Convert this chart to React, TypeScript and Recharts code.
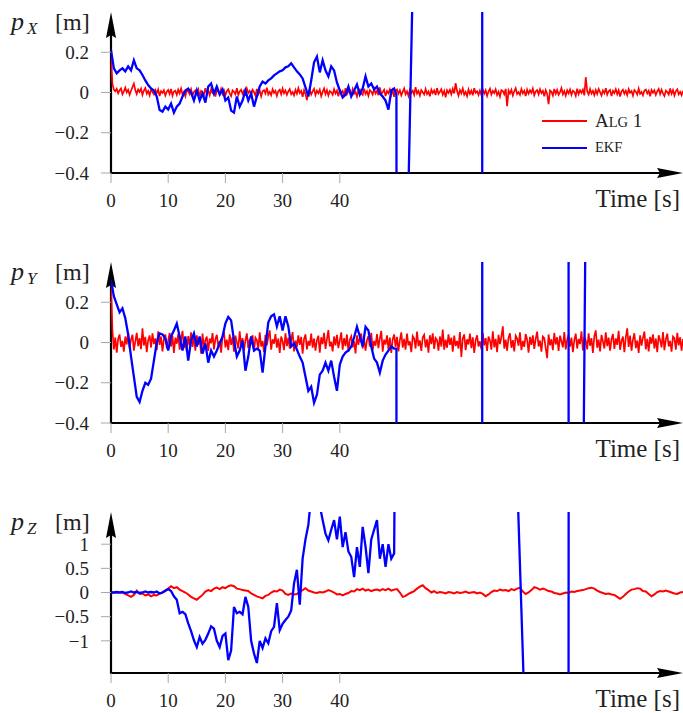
import type { JSX } from 'react';
import { Line, LineChart, ReferenceLine, XAxis, YAxis } from 'recharts';

const FONT = '"Liberation Serif", "Times New Roman", serif';
const RED = '#ff0000';
const BLUE = '#0000ff';
const WIDTH = 683;

// Time axis
const T_MAX = 100;
const X_TICKS = [0, 10, 20, 30, 40];

// Alg 1 position error, sampled every 0.25 s (X, Y in mm) / 0.5 s (Z in cm)
const RED_STEP_XY = 0.25;
const RED_STEP_Z = 0.5;

const ALG_X_MM = [
  178, 42, 14, 6, 18, -4, 11, 20, -9, 6, 24, 1, 13, -11, 9, 26, 44, 12, -8, 15,
  3, 19, -12, 10, 22, -6, 8, -14, 17, 2, -9, 12, -3, 15, -18, 7, -2, 11, -15, 4,
  13, -7, 18, -16, 5, 9, -12, 14, -4, 20, -10, 3, -19, 12, 6, -8, 16, -13, 2, 10,
  -6, 15, -17, 8, 1, -11, 21, -5, 9, -14, 17, -2, 6, -20, 12, 4, -9, 18, -7, 11,
  -13, 7, 16, -4, -18, 10, 3, -9, 22, -12, 5, 14, -6, 9, -16, 19, -3, 8, -11, 13,
  2, -15, 18, -7, 11, -19, 6, 12, -5, 24, -10, 3, -13, 16, -2, 9, -17, 7, 14, -8,
  19, -4, 10, -12, 5, 17, -9, 2, -14, 13, -6, 21, -3, 8, -22, 11, -7, -38, 4, 15,
  -10, 6, 18, -13, 9, -4, 14, -18, 3, 20, -8, 12, -15, 7, 1, -11, 16, -5, 10, -19,
  13, -2, 8, -16, 22, -9, 5, 11, -14, 17, -6, 3, -20, 9, 15, -3, -12, 19, -7, 6,
  -17, 12, 4, -10, 18, -5, 9, -13, 25, -8, 2, 14, -18, 7, -4, 16, -11, 10, -21, 8,
  15, -6, 11, -14, 3, 20, -9, 6, -17, 13, -2, 9, -12, 27, -5, 8, -15, 12, 1, -10,
  17, -8, 5, -19, 14, -3, 10, -13, 22, -7, 4, 16, -11, 8, -24, 11, -2, 13, -9, 18,
  -5, 46, 7, -16, 12, -4, 20, -11, 3, -18, 15, -7, 9, -14, 21, -2, 6, -12, 10, -12,
  14, -6, 11, -17, 5, 19, -10, 8, -3, 16, -13, 4, -20, 12, 7, -9, 18, -68, 10, -5,
  13, -15, 6, 21, -8, 2, -12, 17, -4, 9, -18, 14, -6, 11, -2, 20, -14, 5, 12, -9,
  16, -3, 8, -19, 12, -7, -58, 10, 4, -15, 18, -6, 13, -11, 2, 22, -9, 7, -16, 11,
  -4, 15, -12, 9, 3, -17, 19, -8, 11, -2, 14, -14, 76, 6, -10, 17, -5, 8, -13, 12,
  -7, 18, 2, -15, 10, -4, 21, -11, 6, 13, -18, 8, -3, 16, -9, 11, -20, 5, 14, -6,
  9, -13, 17, -2, 7, -16, 12, 4, -10, 19, -7, 3, -14, 10, 15, -5, 8, -19, 13, -1,
  11, -12, 6, 18, -8, 14, -4, -17, 9, 2, -11, 20, -6, 12, -15, 7, 16, -9, 3, -13,
  8,
];

const ALG_Y_MM = [
  300, 60, -35, 25, -50, 18, 40, -22, 8, -45, 30, -10, 52, -28, 15, 38, -40, 5, 48, -18,
  22, -33, 70, -15, 28, -48, 12, 35, -25, 45, -8, 20, -38, 55, -12, 30, -44, 16, 40, -30,
  10, 48, -20, 33, -52, 24, -6, 42, -36, 14, 58, -28, 8, -46, 32, -14, 50, -22, 26, -40,
  36, -10, 18, -55, 44, -26, 12, 30, -42, 20, -4, 47, -34, 16, 38, -18, 6, -50, 28, 52,
  -24, 14, -38, 40, -12, 26, -46, 34, 2, -30, 55, -16, 22, -40, 10, 45, -28, 18, -8, 36,
  -44, 24, 12, -32, 50, -20, 8, -48, 38, -14, 28, 60, -36, 16, -6, 42, -26, 20, -52, 30,
  6, -38, 46, -18, 24, -30, 14, 52, -44, 10, -22, 36, -12, 28, -56, 18, 40, -34, 8, -16,
  44, -26, 20, -40, 12, 34, -50, 26, -8, 48, -32, 16, 62, -20, 4, -44, 30, -14, 38, -28,
  10, 50, -36, 22, -18, 40, -46, 14, 30, -24, 6, -54, 36, -12, 26, 44, -30, 18, -40, 12,
  32, -20, 48, -38, 8, -16, 42, -28, 20, 58, -46, 14, -10, 36, -34, 24, -52, 16, 40, -22,
  28, -44, 12, 50, -26, 18, -36, 44, -14, 6, -48, 32, 20, -30, 54, -18, 10, -42, 26, 38,
  -24, 16, -50, 36, -8, 46, -32, 22, 12, -40, 30, -20, 64, -36, 14, -26, 40, -12, 24, -46,
  34, -18, 8, -30, 52, -72, 20, 40, -38, 16, -10, 44, -28, 26, -52, 12, 36, -20, 6, -34,
  48, -14, 22, -42, 30, 10, -36, 56, -24, 18, -48, 38, -8, 28, 80, -30, 14, -40, 24, 46,
  -26, 12, -44, 34, 20, -16, 50, -38, 8, -22, 42, 14, -50, 28, -12, 36, -32, 18, 54, -20,
  10, -46, 30, 22, -28, -78, 40, -14, 16, -38, 48, -10, 26, -42, 34, 6, -24, 52, -34, 14,
  38, -20, 24, -48, 12, 44, -30, 18, -8, 56, -40, 28, 10, -34, 46, -16, 22, -52, 32, 60,
  -26, 14, -44, 38, 6, -30, 50, -18, 24, -40, 16, 42, -32, 20, -12, 58, -36, 8, 30, -48,
  26, 70, -22, 34, -40, 14, 46, -28, 10, -52, 36, -16, 24, 54, -34, 18, -44, 28, -6, 40,
  -30, 20, -48, 36, 12, -24, 52, -38, 16, 44, -20, 8, -46, 30, 22, -36, 48, -14, 26, -40,
  18,
];

const ALG_Z_CM = [
  0, 0, 0, 0, 0, -3, -6, -9, -5, 4,
  -3, -2, -6, -4, -8, -5, -6, -2, 0, 3,
  8, 13, 9, 11, 6, 3, 0, -4, -9, -12,
  -15, -10, -5, 2, 5, 3, 8, 10, 7, 11,
  9, 13, 15, 13, 8, 7, 5, 4, 3, -2,
  -5, -8, -10, -12, -7, -5, 0, 3, 2, 6,
  4, -3, -5, -2, -4, -3, 2, 5, 9, 4,
  2, 0, -1, 1, 0, 2, 5, 3, 0, -4,
  -3, -6, -3, -1, 3, 2, 7, 5, 8, 4,
  6, 3, 5, 6, 4, 7, 5, 8, 4, 6,
  7, 0, -9, -7, -3, 0, 3, 8, 12, 15,
  9, 5, 0, 3, -1, 1, 0, -2, 1, 0,
  -2, 1, -1, 0, 2, -1, 0, 1, -2, 0,
  -3, -8, -4, 1, 4, 3, 6, 4, 5, 3,
  7, 5, 8, 10, 2, -3, 0, 5, 11, 9,
  6, 8, 6, 3, 2, -1, -2, -4, -2, 0,
  -1, 2, 1, 3, 4, 5, 7, 9, 10, 8,
  4, 1, -1, -3, -2, -4, -5, -9, -13, -9,
  -3, 2, 6, 7, 9, 8, 3, 2, -3, -8,
  -4, 1, 3, 2, 4, 2, 0, -2, -3, 0,
  1,
];

// EKF position error, sampled every 0.5 s up to 49.5 s
const EKF_STEP = 0.5;

const EKF_X_MM = [
  210, 120, 95, 110, 120, 105, 130, 110, 160, 120,
  110, 87, 60, 37, 20, 10, -20, -87, -95, -70,
  -85, -55, -100, -70, -55, -20, 10, 20, 0, -40,
  10, -40, -5, -50, 30, 45, -5, 30, -10, 15,
  -40, -25, -90, -100, -20, -70, -40, 10, -40, -5,
  -70, -20, 30, 54, 45, 60, 70, 85, 95, 105,
  110, 125, 130, 145, 125, 105, 90, 70, 25, -20,
  60, 150, 178, 100, 160, 110, 80, 130, 110, 50,
  10, -25, -10, 30, -20, 10, 40, -10, 20, 80,
  30, 45, 15, 30, -5, -20, -40, -85, 10, 20,
];

const EKF_Y_MM = [
  310, 230, 190, 150, 170, 120, 40, -70, -170, -270,
  -295, -240, -200, -210, -180, -90, 0, 45, 40, 20,
  -40, 30, 60, 94, 30, -40, 30, -90, 10, 45,
  -20, 30, -55, -5, -100, -40, -70, -40, -5, 30,
  95, 127, 110, 10, -70, -40, 10, -140, -70, 30,
  -40, -30, -40, -150, -20, 100, 130, 140, 80, 130,
  60, 130, 80, -20, -5, -35, -70, -100, -170, -240,
  -220, -300, -260, -160, -140, -100, -140, -90, -170, -240,
  -110, -70, -50, -40, -20, 25, 78, 30, -20, 78,
  60, -20, -80, -100, -150, -90, -60, -40, -20, -30,
];

const EKF_Z_CM = [
  0, 0, 1, 0, 1, -1, 0, 2, 0, 1,
  -1, 0, 2, 0, 1, 0, 2, -2, 0, 4,
  7, 3, -8, -15, -43, -40, -45, -64, -80, -99,
  -113, -92, -106, -98, -85, -70, -75, -100, -113, -90,
  -85, -140, -120, -30, -43, -40, -45, -9, -30, -100,
  -126, -146, -100, -115, -95, -105, -80, -71, -22, -78,
  -65, -57, -50, -37, 19, 47, -25, 70, 110, 140,
  200, 230, 220, 180, 150, 122, 108, 130, 150, 110,
  157, 94, 125, 85, 74, 32, 94, 53, 136, 95,
  40, 110, 130, 150, 70, 100, 53, 100, 70, 81,
];

// EKF divergence after ~50 s (time in s, value in m, far outside the plotted range)
const EKF_X_TAIL_T = [49.9, 50.0, 54.7, 64.88, 64.92, 100];
const EKF_X_TAIL_V = [-0.01, -3.2, 3.2, 3.2, -3.2, -3.2];
const EKF_Y_TAIL_T = [49.9, 50.0, 64.88, 64.92, 79.98, 80.02, 81.28, 84.28, 100];
const EKF_Y_TAIL_V = [-0.03, -5, -5, 5, 5, -5, -5, 5, 5];
const EKF_Z_TAIL_T = [49.75, 70.3, 73.0, 79.98, 80.02, 100];
const EKF_Z_TAIL_V = [5, 5, -5, -5, 5, 5];

// Y axes
const XY_DOMAIN: [number, number] = [-0.4, 0.4];
const XY_TICKS = [-0.4, -0.2, 0, 0.2];
const Z_DOMAIN: [number, number] = [-5 / 3, 5 / 3];
const Z_TICKS = [-1, -0.5, 0, 0.5, 1];

interface Point {
  t: number;
  v: number;
}

function sampled(values: number[], step: number, unit: number): Point[] {
  return values.map((v, i) => ({ t: i * step, v: v * unit }));
}

function tail(ts: number[], vs: number[]): Point[] {
  return ts.map((t, i) => ({ t, v: vs[i] }));
}

const algX = sampled(ALG_X_MM, RED_STEP_XY, 0.001);
const algY = sampled(ALG_Y_MM, RED_STEP_XY, 0.001);
const algZ = sampled(ALG_Z_CM, RED_STEP_Z, 0.01);
const ekfX = [...sampled(EKF_X_MM, EKF_STEP, 0.001), ...tail(EKF_X_TAIL_T, EKF_X_TAIL_V)];
const ekfY = [...sampled(EKF_Y_MM, EKF_STEP, 0.001), ...tail(EKF_Y_TAIL_T, EKF_Y_TAIL_V)];
const ekfZ = [...sampled(EKF_Z_CM, EKF_STEP, 0.01), ...tail(EKF_Z_TAIL_T, EKF_Z_TAIL_V)];

function formatTick(value: number): string {
  return value < 0 ? `\u2212${Math.abs(value)}` : `${value}`;
}

/**
 * Axis line drawn with a long triangular head at its end point
 */
function AxisArrow(props: any): JSX.Element {
  const { x1, y1, x2, y2 } = props;
  const dx = x2 - x1;
  const dy = y2 - y1;
  const len = Math.hypot(dx, dy) || 1;
  const ux = dx / len;
  const uy = dy / len;
  const headLen = 26;
  const halfW = 5;
  const bx = x2 - ux * headLen;
  const by = y2 - uy * headLen;
  const points = `${x2},${y2} ${bx - uy * halfW},${by + ux * halfW} ${bx + ux * 3},${by + uy * 3} ${bx + uy * halfW},${by - ux * halfW}`;
  return (
    <g>
      <line x1={x1 - ux} y1={y1 - uy} x2={bx + ux * 4} y2={by + uy * 4} stroke="#000" strokeWidth={2.2} />
      <polygon points={points} fill="#000" />
    </g>
  );
}

interface PanelProps {
  name: string;
  alg: Point[];
  ekf: Point[];
  algWidth: number;
  domain: [number, number];
  ticks: number[];
  height: number;
  xAxisHeight: number;
  showLegend?: boolean;
}

function Panel({ name, alg, ekf, algWidth, domain, ticks, height, xAxisHeight, showLegend }: PanelProps): JSX.Element {
  const plotBottom = height - xAxisHeight;
  return (
    <div style={{ position: 'relative', width: WIDTH, height }}>
      <LineChart width={WIDTH} height={height} margin={{ top: 12, right: 0, bottom: 0, left: 0 }}>
        <XAxis
          type="number"
          dataKey="t"
          domain={[0, T_MAX]}
          ticks={X_TICKS}
          interval={0}
          allowDataOverflow
          height={xAxisHeight}
          axisLine={false}
          tickLine={{ stroke: '#a8a8a8' }}
          tickSize={10}
          tickMargin={11}
          tick={{ fontSize: 19, fill: '#222', fontFamily: FONT }}
        />
        <YAxis
          type="number"
          domain={domain}
          ticks={ticks}
          interval={0}
          allowDataOverflow
          width={111}
          axisLine={false}
          tickLine={{ stroke: '#a8a8a8' }}
          tickSize={10}
          tickMargin={12}
          tickFormatter={formatTick}
          tick={{ fontSize: 19, fill: '#222', fontFamily: FONT }}
        />
        <ReferenceLine
          segment={[{ x: 0, y: domain[0] }, { x: T_MAX, y: domain[0] }]}
          shape={AxisArrow}
          ifOverflow="visible"
        />
        <ReferenceLine
          segment={[{ x: 0, y: domain[0] }, { x: 0, y: domain[1] }]}
          shape={AxisArrow}
          ifOverflow="visible"
        />
        <Line
          data={alg}
          dataKey="v"
          stroke={RED}
          strokeWidth={algWidth}
          dot={false}
          activeDot={false}
          isAnimationActive={false}
        />
        <Line
          data={ekf}
          dataKey="v"
          stroke={BLUE}
          strokeWidth={2.3}
          dot={false}
          activeDot={false}
          isAnimationActive={false}
        />
      </LineChart>

      {/* Axis titles and legend */}
      <svg
        width={WIDTH}
        height={height}
        style={{ position: 'absolute', left: 0, top: 0, pointerEvents: 'none' }}
        fontFamily={FONT}
        fill="#222"
      >
        <text x={11} y={30} fontSize={26} fontStyle="italic">p</text>
        <text x={27} y={34} fontSize={17} fontStyle="italic">{name}</text>
        <text x={55} y={30} fontSize={24}>[m]</text>
        <text x={680} y={plotBottom + 34} fontSize={25} textAnchor="end">Time [s]</text>
        {showLegend && (
          <g>
            <line x1={542} y1={121} x2={587} y2={121} stroke={RED} strokeWidth={2.2} />
            <text x={595} y={127} fontSize={19}>
              A<tspan fontSize={14.5}>LG</tspan> 1
            </text>
            <line x1={542} y1={148} x2={587} y2={148} stroke={BLUE} strokeWidth={2.2} />
            <text x={595} y={152} fontSize={14.5}>EKF</text>
          </g>
        )}
      </svg>
    </div>
  );
}

export default function App(): JSX.Element {
  return (
    <div style={{ position: 'absolute', left: 0, top: 0, width: WIDTH, height: 713, background: '#fff' }}>
      <Panel
        name="X"
        alg={algX}
        ekf={ekfX}
        algWidth={1.7}
        domain={XY_DOMAIN}
        ticks={XY_TICKS}
        height={250}
        xAxisHeight={77}
        showLegend
      />
      <Panel
        name="Y"
        alg={algY}
        ekf={ekfY}
        algWidth={1.7}
        domain={XY_DOMAIN}
        ticks={XY_TICKS}
        height={250}
        xAxisHeight={77}
      />
      <Panel
        name="Z"
        alg={algZ}
        ekf={ekfZ}
        algWidth={2}
        domain={Z_DOMAIN}
        ticks={Z_TICKS}
        height={213}
        xAxisHeight={40}
      />
    </div>
  );
}
